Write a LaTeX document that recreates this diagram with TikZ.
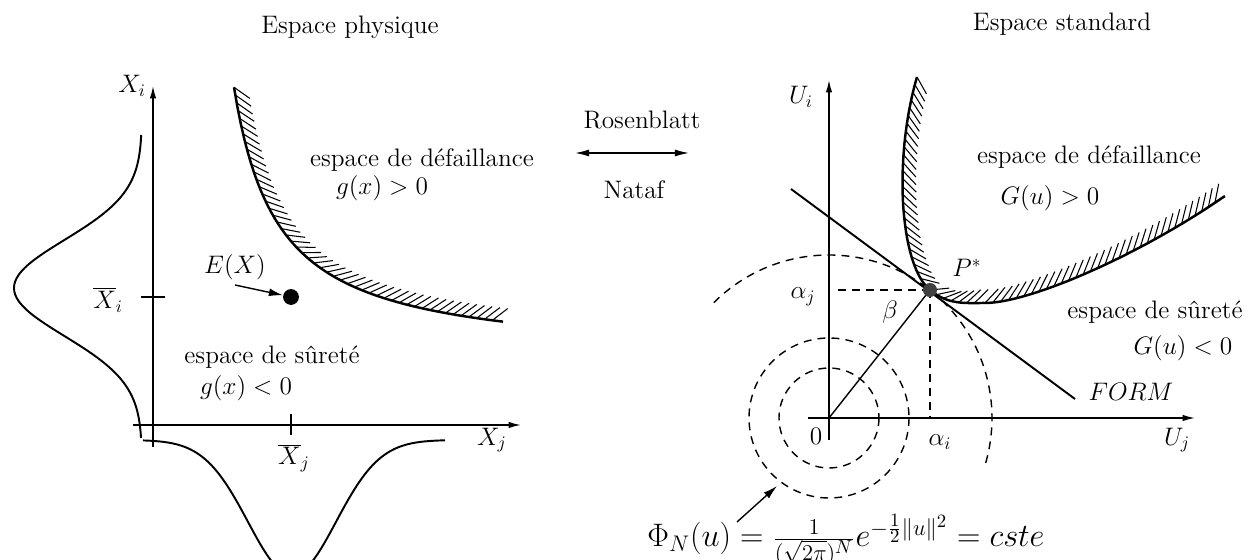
\documentclass[tikz,border=0pt]{standalone}
\usepackage{graphicx}
\usetikzlibrary{arrows.meta,decorations.pathreplacing}
\newcommand\mybez[4]{((1-\x)^3*#1+3*(1-\x)^2*\x*#2+3*(1-\x)*\x^2*#3+\x^3*#4)}
\begin{document}
\begin{tikzpicture}[x=0.02cm,y=-0.02cm,
  txt/.style={inner sep=1pt,font=\fontsize{14.4}{18}\selectfont},
  axis/.style={line width=0.8pt,-{Latex[length=7pt,width=3.6pt]}},
  curve/.style={line width=1.4pt,line join=round},
  hatch/.style={line width=0.6pt,decorate,decoration={border,segment length=4.5pt,amplitude=11pt,angle=45}},
  dens/.style={line width=1.1pt},
  dashline/.style={line width=0.8pt,dash pattern=on 4.5pt off 3.5pt},
  pointer/.style={line width=0.8pt,-{Latex[length=8pt,width=4.5pt]}}]
\useasboundingbox (0,0) rectangle (1249,560);
\clip (0,0) rectangle (1249,560);

% ---------- titles ----------
\node[txt] (t1) at (350,27) {Espace physique};
\node[txt] (t2) at (1062,24) {Espace standard};

% ---------- left panel ----------
\coordinate (xib) at (153,447);
\coordinate (xit) at (153,86);
\coordinate (xjl) at (133,425);
\coordinate (xjr) at (521,425);
\draw[axis] (xib) -- (xit);
\draw[axis] (xjl) -- (xjr);
\node[txt] (lxi) at (132,86) {$X_i$};
\node[txt] (lxj) at (492,440) {$X_j$};
\coordinate (ti1) at (141,297); \coordinate (ti2) at (165,297);
\draw[line width=0.8pt] (ti1) -- (ti2);
\node[txt] (lxbi) at (108,300) {$\overline{X}_i$};
\coordinate (tj1) at (291,414); \coordinate (tj2) at (291,435);
\draw[line width=0.8pt] (tj1) -- (tj2);
\node[txt] (lxbj) at (294,458) {$\overline{X}_j$};
\node[circle,fill=black,inner sep=0pt,minimum size=9pt] (ex) at (291,297) {};
\node[txt] (lex) at (235,267) {$E(X)$};
\coordinate (exa) at (235,285);
\draw[pointer] (exa) -- (ex);
% densities
\draw[dens] plot[domain=135:438,samples=90,smooth] ({142-128*exp(-((\x-288)/10)^2/46.08)},\x);
\draw[dens] plot[domain=143:445,samples=90,smooth] (\x,{440+135*exp(-((\x-292)/10)^2/38.72)});
% limit state
\draw[curve] plot[domain=234:503,samples=80] (\x,{360-12000/(\x-190)});
\draw[hatch] plot[domain=234:503,samples=80] (\x,{360-12000/(\x-190)});
\node[txt] (ld1) at (422,160) {espace de défaillance};
\node[txt] (ld2) at (382,188) {$g(x)>0$};
\node[txt] (ls1) at (272,357) {espace de sûreté};
\node[txt] (ls2) at (246,388) {$g(x)<0$};

% ---------- middle ----------
\node[txt] (ros) at (642,120) {Rosenblatt};
\coordinate (ma) at (575,153); \coordinate (mb) at (689,153);
\draw[line width=0.8pt,{Latex[length=8pt,width=4pt]}-{Latex[length=8pt,width=4pt]}] (ma) -- (mb);
\node[txt] (nat) at (634,190) {Nataf};

% ---------- right panel ----------
\coordinate (O) at (829,418);
\coordinate (uib) at (829,440);
\coordinate (uit) at (829,80);
\coordinate (ujl) at (808,418);
\coordinate (ujr) at (1195,418);
\draw[axis] (uib) -- (uit);
\draw[axis] (ujl) -- (ujr);
\node[txt] (lui) at (801,97) {$U_i$};
\node[txt] (luj) at (1177,440) {$U_j$};
\node[txt] (l0) at (816,436) {$0$};
% circles
\draw[dashline] (O) circle[radius=50];
\draw[dashline] (O) circle[radius=80];
\draw[dashline] ([shift={(-135:163)}]O) arc[start angle=-135,end angle=17,radius=163];
% design point
\coordinate (P) at (930,290);
\coordinate (aj) at (838,290);
\coordinate (ai) at (930,418);
\draw[dashline] (aj) -- (P);
\draw[dashline] (P) -- (ai);
\draw[line width=0.8pt] (O) -- (P);
\node[txt] (laj) at (803,297) {$\alpha_j$};
\node[txt] (lai) at (940,442) {$\alpha_i$};
\node[txt] (lb) at (890,312) {$\beta$};
% FORM line
\coordinate (f1) at (791,189);
\coordinate (f2) at (1075,399);
\draw[line width=1.1pt] (f1) -- (f2);
\node[txt] (lform) at (1131,392) {$FORM$};
% limit state (three cubic pieces)
\foreach \ax/\bx/\cx/\dx/\ay/\by/\cy/\dy in {917/893/900/930/77/160/265/290, 930/948/965/985/290/305/303/303, 985/1030/1140/1225/303/303/255/196}{
  \draw[curve] plot[domain=0:1,samples=40] ({\mybez{\ax}{\bx}{\cx}{\dx}},{\mybez{\ay}{\by}{\cy}{\dy}});
  \draw[hatch] plot[domain=0:1,samples=40] ({\mybez{\ax}{\bx}{\cx}{\dx}},{\mybez{\ay}{\by}{\cy}{\dy}});
}
\node[circle,fill=black!75,inner sep=0pt,minimum size=8pt] (pdot) at (P) {};
\node[txt] (lp) at (967,268) {$P^*$};
\node[txt] (rd1) at (1089,157) {espace de défaillance};
\node[txt] (rd2) at (1050,198) {$G(u)>0$};
\node[txt] (rs1) at (1155,312) {espace de sûreté};
\node[txt] (rs2) at (1183,348) {$G(u)<0$};
% density formula
\node[inner sep=0pt,anchor=base west,font=\fontsize{17.28}{22}\selectfont] (phi) at (647,547)
  {\scalebox{1.07}{$\Phi_N(u)=\frac{1}{(\sqrt{2\pi})^N}e^{-\frac{1}{2}\|u\|^2}=cste$}};
\coordinate (pa) at (737,522);
\coordinate (pb) at (777,486);
\draw[pointer] (pa) -- (pb);
\end{tikzpicture}
\end{document}
